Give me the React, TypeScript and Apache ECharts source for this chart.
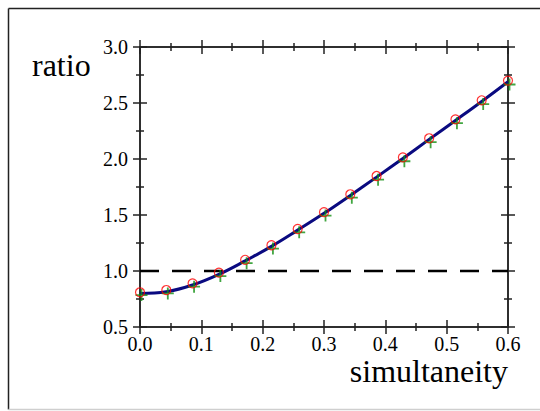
import React, { useEffect, useRef } from "react";
import * as echarts from "echarts";

const xValues = [0.0, 0.0429, 0.0857, 0.1286, 0.1714, 0.2143, 0.2571, 0.3, 0.3429, 0.3857, 0.4286, 0.4714, 0.5143, 0.5571, 0.6];
const redCircles = [0.81, 0.83, 0.89, 0.985, 1.1, 1.23, 1.375, 1.525, 1.685, 1.848, 2.015, 2.185, 2.354, 2.524, 2.7];
const greenPluses = [0.785, 0.8, 0.86, 0.955, 1.07, 1.2, 1.345, 1.495, 1.655, 1.815, 1.98, 2.15, 2.32, 2.49, 2.665];
const blueLine = [0.8, 0.815, 0.875, 0.97, 1.09, 1.22, 1.365, 1.515, 1.675, 1.838, 2.005, 2.175, 2.344, 2.514, 2.69];
const refLevel = 1.0;
const xRange = [0, 0.6];
const yRange = [0.5, 3.0];
const xInterval = 0.1;
const yInterval = 0.5;
const xName = "simultaneity";
const yName = "ratio";

const SERIF = "Liberation Serif";
const AXIS_COLOR = "#222";

export default function App() {
  const ref = useRef<HTMLDivElement>(null);
  useEffect(() => {
    if (!ref.current) return;
    const chart = echarts.init(ref.current, undefined, { renderer: "svg" });
    const lineStyle = { color: AXIS_COLOR, width: 1.5 };
    const mkX = (position: string, inside: boolean, labels: boolean) => ({
      type: "value",
      position,
      min: xRange[0],
      max: xRange[1],
      interval: xInterval,
      axisLine: { show: true, onZero: false, lineStyle },
      axisTick: { show: true, inside, length: 7, lineStyle },
      minorTick: { show: true, splitNumber: 2, length: 4, lineStyle },
      splitLine: { show: false },
      axisLabel: labels
        ? {
            show: true,
            margin: 7,
            color: "#000",
            fontFamily: SERIF,
            fontSize: 20,
            formatter: (v: number) => v.toFixed(1),
          }
        : { show: false },
    });
    const mkY = (position: string, inside: boolean, labels: boolean) => ({
      type: "value",
      position,
      min: yRange[0],
      max: yRange[1],
      interval: yInterval,
      axisLine: { show: true, onZero: false, lineStyle },
      axisTick: { show: true, inside, length: 7, lineStyle },
      minorTick: { show: true, splitNumber: 2, length: 4, lineStyle },
      splitLine: { show: false },
      axisLabel: labels
        ? {
            show: true,
            margin: 12,
            color: "#000",
            fontFamily: SERIF,
            fontSize: 20,
            formatter: (v: number) => v.toFixed(1),
          }
        : { show: false },
    });
    const plusPath = "path://M4.25,0h1.5v4.25h4.25v1.5h-4.25v4.25h-1.5v-4.25h-4.25v-1.5h4.25z";
    chart.setOption({
      animation: false,
      backgroundColor: "#fff",
      textStyle: { fontFamily: SERIF },
      grid: { left: 140, right: 32, top: 47, bottom: 84, containLabel: false },
      xAxis: [mkX("bottom", false, true), mkX("bottom", true, false), mkX("top", false, false), mkX("top", true, false)],
      yAxis: [mkY("left", false, true), mkY("left", true, false), mkY("right", false, false), mkY("right", true, false)],
      graphic: [
        { type: "line", shape: { x1: 8.5, y1: 8.5, x2: 540, y2: 8.5 }, style: { stroke: "#222", lineWidth: 1.5 } },
        { type: "line", shape: { x1: 8.5, y1: 8.5, x2: 8.5, y2: 409.5 }, style: { stroke: "#222", lineWidth: 1.5 } },
        { type: "line", shape: { x1: 8.5, y1: 409.5, x2: 540, y2: 409.5 }, style: { stroke: "#cfcfcf", lineWidth: 1.5 } },
        {
          type: "text",
          x: 32,
          y: 65,
          style: { text: yName, fontFamily: SERIF, fontSize: 32, fill: "#000", textAlign: "left", textVerticalAlign: "middle" },
        },
        {
          type: "text",
          x: 508,
          y: 371,
          style: { text: xName, fontFamily: SERIF, fontSize: 32, fill: "#000", textAlign: "right", textVerticalAlign: "middle" },
        },
      ],
      series: [
        {
          type: "line",
          data: [
            [xRange[0], refLevel],
            [xRange[1], refLevel],
          ],
          symbol: "none",
          lineStyle: { color: "#000", width: 2.5, type: [19, 13] },
          z: 1,
        },
        {
          type: "line",
          data: xValues.map((x, i) => [x, blueLine[i]]),
          symbol: "none",
          smooth: 0.4,
          lineStyle: { color: "#0a0a80", width: 3 },
          z: 2,
        },
        {
          type: "scatter",
          data: xValues.map((x, i) => [x, greenPluses[i]]),
          symbol: plusPath,
          symbolSize: 12,
          symbolOffset: [1.5, 0],
          itemStyle: { color: "#129012" },
          z: 3,
          clip: false,
        },
        {
          type: "scatter",
          data: xValues.map((x, i) => [x, redCircles[i]]),
          symbol: "circle",
          symbolSize: 9,
          itemStyle: { color: "none", borderColor: "#ff0000", borderWidth: 1.2 },
          z: 4,
          clip: false,
        },
      ],
    });
    return () => chart.dispose();
  }, []);
  return <div ref={ref} style={{ position: "absolute", left: 0, top: 0, width: 540, height: 411 }} />;
}
